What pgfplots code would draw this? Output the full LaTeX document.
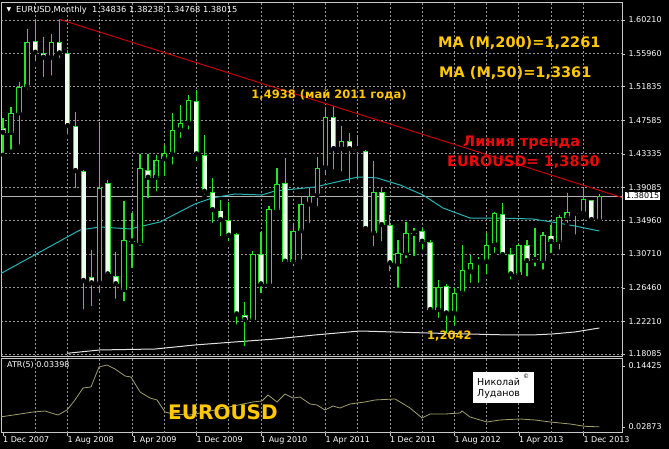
\documentclass[border=0pt]{standalone}
\usepackage{pgfplots}
\pgfplotsset{compat=1.18}
\usepackage{pgfplotstable}
\usepackage{fontspec}
\setmainfont{DejaVu Sans}
\setsansfont{DejaVu Sans}

\definecolor{candle}{RGB}{40,228,40}
\definecolor{bearbody}{RGB}{235,255,235}
\definecolor{ma50}{RGB}{40,180,180}
\definecolor{ma200}{RGB}{225,225,225}
\definecolor{trend}{RGB}{200,0,0}
\definecolor{atrline}{RGB}{160,160,110}
\definecolor{gold}{RGB}{255,200,0}
\definecolor{redlbl}{RGB}{235,10,10}
\definecolor{gridc}{RGB}{150,150,150}
\definecolor{framec}{RGB}{200,200,200}

% monthly EURUSD bars, Dec 2007 = 0
\pgfplotstableread{
i  o       h       l       c
0  1.4660  1.4780  1.4320  1.4600
1  1.4600  1.4928  1.4361  1.4844
2  1.4844  1.5243  1.4424  1.5180
3  1.5180  1.5907  1.5117  1.5748
4  1.5756  1.6021  1.5475  1.5609
5  1.5609  1.5811  1.5277  1.5546
6  1.5546  1.5844  1.5294  1.5748
7  1.5748  1.6038  1.5517  1.5601
8  1.5601  1.5643  1.4550  1.4684
9  1.4684  1.4865  1.3877  1.4117
10 1.4117  1.4130  1.2343  1.2730
11 1.2776  1.3121  1.2386  1.2701
12 1.2701  1.4731  1.2553  1.3907
13 1.3962  1.4004  1.2764  1.2814
14 1.2790  1.3091  1.2480  1.2690
15 1.2617  1.3739  1.2448  1.3247
16 1.3225  1.3583  1.2869  1.3235
17 1.3213  1.4327  1.3150  1.4159
18 1.4130  1.4327  1.3751  1.4033
19 1.4033  1.4319  1.3835  1.4256
20 1.4268  1.4445  1.4025  1.4340
21 1.4327  1.4844  1.4172  1.4634
22 1.4634  1.4949  1.4508  1.4718
23 1.4718  1.5075  1.4613  1.5012
24 1.5000  1.5138  1.4214  1.4327
25 1.4319  1.4571  1.3793  1.3856
26 1.3856  1.4025  1.3436  1.3625
27 1.3617  1.3751  1.3268  1.3499
28 1.3499  1.3730  1.3205  1.3302
29 1.3318  1.3331  1.2154  1.2310
30 1.2301  1.2469  1.1881  1.2238
31 1.2238  1.3108  1.2196  1.3066
32 1.3066  1.3352  1.2553  1.2688
33 1.2688  1.3680  1.2637  1.3638
34 1.3625  1.4151  1.3583  1.3949
35 1.3962  1.4277  1.2932  1.2974
36 1.2974  1.3457  1.2890  1.3360
37 1.3360  1.3806  1.2974  1.3697
38 1.3697  1.3898  1.3436  1.3806
39 1.3806  1.4298  1.3646  1.4159
40 1.4159  1.4907  1.4035  1.4802
41 1.4802  1.4938  1.4109  1.4394
42 1.4394  1.4689  1.4088  1.4495
43 1.4495  1.4592  1.3940  1.4394
44 1.4394  1.4563  1.3982  1.4388
45 1.4369  1.4382  1.3352  1.3386
46 1.3331  1.4243  1.3142  1.3856
47 1.3856  1.3898  1.3205  1.3436
48 1.3436  1.3562  1.2827  1.2953
49 1.2940  1.3247  1.2617  1.3079
50 1.3079  1.3478  1.2995  1.3331
51 1.3325  1.3400  1.3020  1.3340
52 1.3361  1.3394  1.3100  1.3226
53 1.3226  1.3243  1.2343  1.2364
54 1.2364  1.2743  1.2238  1.2659
55 1.2671  1.2688  1.2042  1.2322
56 1.2322  1.2646  1.2135  1.2574
57 1.2574  1.3184  1.2512  1.2869
58 1.2848  1.3058  1.2680  1.2953
59 1.2960  1.3037  1.2680  1.2985
60 1.2974  1.3331  1.2785  1.3184
61 1.3184  1.3604  1.3058  1.3583
62 1.3571  1.3709  1.3016  1.3058
63 1.3066  1.3142  1.2722  1.2814
64 1.2806  1.3192  1.2764  1.3184
65 1.3184  1.3247  1.2764  1.2982
66 1.2993  1.3402  1.2890  1.2998
67 1.2982  1.3352  1.2848  1.3310
68 1.3302  1.3436  1.3058  1.3226
69 1.3226  1.3562  1.3100  1.3541
70 1.3529  1.3835  1.3436  1.3596
71 1.3580  1.3613  1.3289  1.3590
72 1.3583  1.3898  1.3541  1.3764
73 1.3751  1.3751  1.3487  1.3499
74 1.34836 1.38238 1.34768 1.38015
}\eurusd

% MA(50)
\pgfplotstableread{
i     v
-0.37 1.2818
4.59  1.3095
9.55  1.3373
12.03 1.3411
15.76 1.3386
19.48 1.3474
23.82 1.3701
25.93 1.3776
28.78 1.3827
32.13 1.3814
33.75 1.3865
38.71 1.3915
44.04 1.4041
46.40 1.4029
49.26 1.3940
52.11 1.3814
54.59 1.3650
57.94 1.3524
61.41 1.3524
65.63 1.3512
68.11 1.3474
70.97 1.3423
74.00 1.3360
}\mafast

% MA(200)
\pgfplotstableread{
i     v
7.94  1.1818
12.03 1.1860
18.86 1.1872
23.82 1.1923
28.78 1.1961
33.75 1.1998
38.71 1.2049
44.29 1.2099
48.39 1.2087
52.61 1.2074
57.94 1.2061
62.66 1.2049
65.63 1.2049
68.11 1.2061
70.97 1.2087
74.00 1.2137
}\maslow

% ATR(5)
\pgfplotstableread{
i     v
-0.37 0.0477
2.11  0.0533
3.72  0.0571
5.21  0.0590
6.82  0.0514
7.94  0.0609
8.93  0.0799
9.93  0.1026
10.92 0.1045
11.91 0.1424
12.90 0.1461
13.90 0.1386
15.14 0.1253
15.88 0.1234
17.00 0.0950
18.24 0.0836
19.11 0.0799
20.10 0.0571
21.09 0.0533
23.20 0.0514
26.30 0.0609
29.78 0.0723
31.02 0.0761
32.13 0.0780
32.88 0.0893
33.99 0.0761
34.99 0.0912
35.98 0.0836
36.85 0.0855
38.09 0.0723
38.96 0.0704
39.95 0.0609
40.94 0.0685
41.81 0.0647
43.05 0.0723
44.91 0.0761
46.15 0.0799
48.64 0.0818
49.26 0.0761
50.50 0.0647
51.99 0.0458
52.98 0.0533
54.84 0.0533
56.70 0.0552
56.95 0.0590
57.94 0.0477
60.05 0.0382
61.66 0.0420
64.14 0.0439
66.00 0.0420
67.87 0.0382
70.35 0.0344
72.21 0.0300
74.00 0.0290
}\atr

\pgfplotsset{
  mtchart/.style={
    scale only axis, width=621pt,
    xmin=-0.25, xmax=76.8,
    axis line style={draw=framec},
    clip mode=individual,
    tick align=outside, major tick length=3pt,
    tick style={draw=framec},
    tick label style={text=white, font=\fontsize{8}{9}\selectfont},
    grid style={draw=gridc, dash pattern=on 2pt off 2pt, line width=0.7pt},
    ytick pos=right, yticklabel pos=right,
  },
  % one upward segment per bar, from y to y + error
  candlebar/.style 2 args={only marks, mark=none,
    error bars/.cd, y dir=plus, y explicit, error mark=none,
    error bar style={line width=#1, draw=#2}},
}

\begin{document}
\begin{tikzpicture}[x=1pt,y=1pt]
\path[use as bounding box, fill=black] (0,0) rectangle (669,449);

\begin{axis}[mtchart,
  at={(1pt,92.3pt)}, anchor=south west, height=354.7pt,
  ymin=1.1775, ymax=1.6248,
  xtick={4,8,...,72}, xticklabels={}, xtick style={draw=none},
  ytick={1.18085,1.22210,1.26460,1.30710,1.34960,1.39085,1.43335,1.47585,1.51835,1.55960,1.60210},
  yticklabels={1.18085,1.22210,1.26460,1.30710,1.34960,1.39085,1.43335,1.47585,1.51835,1.55960,1.60210},
  grid=major,
]
\addplot[white!70!black, line width=0.8pt] coordinates {(-0.25,1.38015) (76.8,1.38015)};
\addplot[ma200, line width=1pt] table[x=i, y=v] {\maslow};
\addplot[ma50, line width=1pt] table[x=i, y=v] {\mafast};
% wicks
\addplot[candlebar={1.2pt}{candle}]
  table[x=i, y=l, y error expr={\thisrow{h}-\thisrow{l}}] {\eurusd};
% body outline
\addplot[candlebar={5.5pt}{candle}]
  table[x=i, y expr={(\thisrow{o}+\thisrow{c})/2-max(abs(\thisrow{c}-\thisrow{o})/2,0.0007)},
        y error expr={2*max(abs(\thisrow{c}-\thisrow{o})/2,0.0007)}] {\eurusd};
% body inside: black for rising months
\addplot[candlebar={3.3pt}{black}]
  table[x=i, y expr={min(\thisrow{o},\thisrow{c})+0.0013},
        y error expr={(1-(\thisrow{o}>\thisrow{c}))*max(abs(\thisrow{c}-\thisrow{o})-0.0026,0)}] {\eurusd};
% body inside: white for falling months
\addplot[candlebar={4pt}{bearbody}]
  table[x=i, y expr={min(\thisrow{o},\thisrow{c})+0.0011},
        y error expr={(\thisrow{o}>\thisrow{c})*max(abs(\thisrow{c}-\thisrow{o})-0.0022,0)}] {\eurusd};
% trend line
\addplot[trend, line width=1pt] coordinates {(7,1.6030) (76.8,1.3783)};
\node[fill=white, text=black, anchor=west, inner sep=1pt, xshift=3pt,
      font=\fontsize{8}{9}\selectfont] at (axis cs:76.8,1.38015) {1.38015};
\end{axis}

\begin{axis}[mtchart,
  at={(1pt,16.3pt)}, anchor=south west, height=74.4pt,
  ymin=0.01792, ymax=0.15883,
  xtick={0,8,...,72},
  xticklabels={1 Dec 2007,1 Aug 2008,1 Apr 2009,1 Dec 2009,1 Aug 2010,1 Apr 2011,1 Dec 2011,1 Aug 2012,1 Apr 2013,1 Dec 2013},
  xtick pos=bottom,
  xticklabel style={anchor=north west, inner sep=0pt, yshift=-1pt},
  extra x ticks={4,8,...,72}, extra x tick labels={},
  extra x tick style={grid=major, major tick length=0pt},
  ytick={0.02873,0.14425}, yticklabels={0.02873,0.14425},
]
\addplot[atrline, line width=0.8pt] table[x=i, y=v] {\atr};
\end{axis}

% labels
\node[text=white, font=\fontsize{6}{7}\selectfont] at (9,439) {▼};
\node[text=white, anchor=west, inner sep=0pt, font=\fontsize{8.3}{9}\selectfont]
  at (16,439) {EURUSD,Monthly\ \ 1.34836 1.38238 1.34768 1.38015};
\node[text=gold, font=\bfseries\fontsize{11.5}{13}\selectfont] at (329,354) {1,4938 (май 2011 года)};
\node[text=gold, anchor=west, inner sep=0pt, font=\bfseries\fontsize{14.5}{16}\selectfont] at (438,406) {MA (M,200)=1,2261};
\node[text=gold, anchor=west, inner sep=0pt, font=\bfseries\fontsize{14.5}{16}\selectfont] at (439,376) {MA (M,50)=1,3361};
\node[text=redlbl, anchor=west, inner sep=0pt, font=\bfseries\fontsize{14.5}{16}\selectfont] at (463,306) {Линия тренда};
\node[text=redlbl, anchor=west, inner sep=0pt, font=\bfseries\fontsize{14.5}{16}\selectfont] at (447,287) {EUROUSD= 1,3850};
\node[text=gold, anchor=west, inner sep=0pt, font=\bfseries\fontsize{11.5}{13}\selectfont] at (427,113) {1,2042};
\node[text=white, anchor=west, inner sep=0pt, font=\fontsize{8}{9}\selectfont] at (7,84) {ATR(5) 0.03398};
\node[text=gold, anchor=west, inner sep=0pt, font=\bfseries\fontsize{20}{22}\selectfont] at (168,37) {EUROUSD};
\fill[white] (473,46) rectangle (534,77);
\node[text=black, anchor=west, inner sep=0pt, font=\fontsize{9.5}{11}\selectfont] at (477,67) {Николай};
\node[text=black, anchor=west, inner sep=0pt, font=\fontsize{9.5}{11}\selectfont] at (477,55) {Луданов};
\node[text=black, font=\fontsize{6}{7}\selectfont] at (526,73) {©};
\end{tikzpicture}
\end{document}
